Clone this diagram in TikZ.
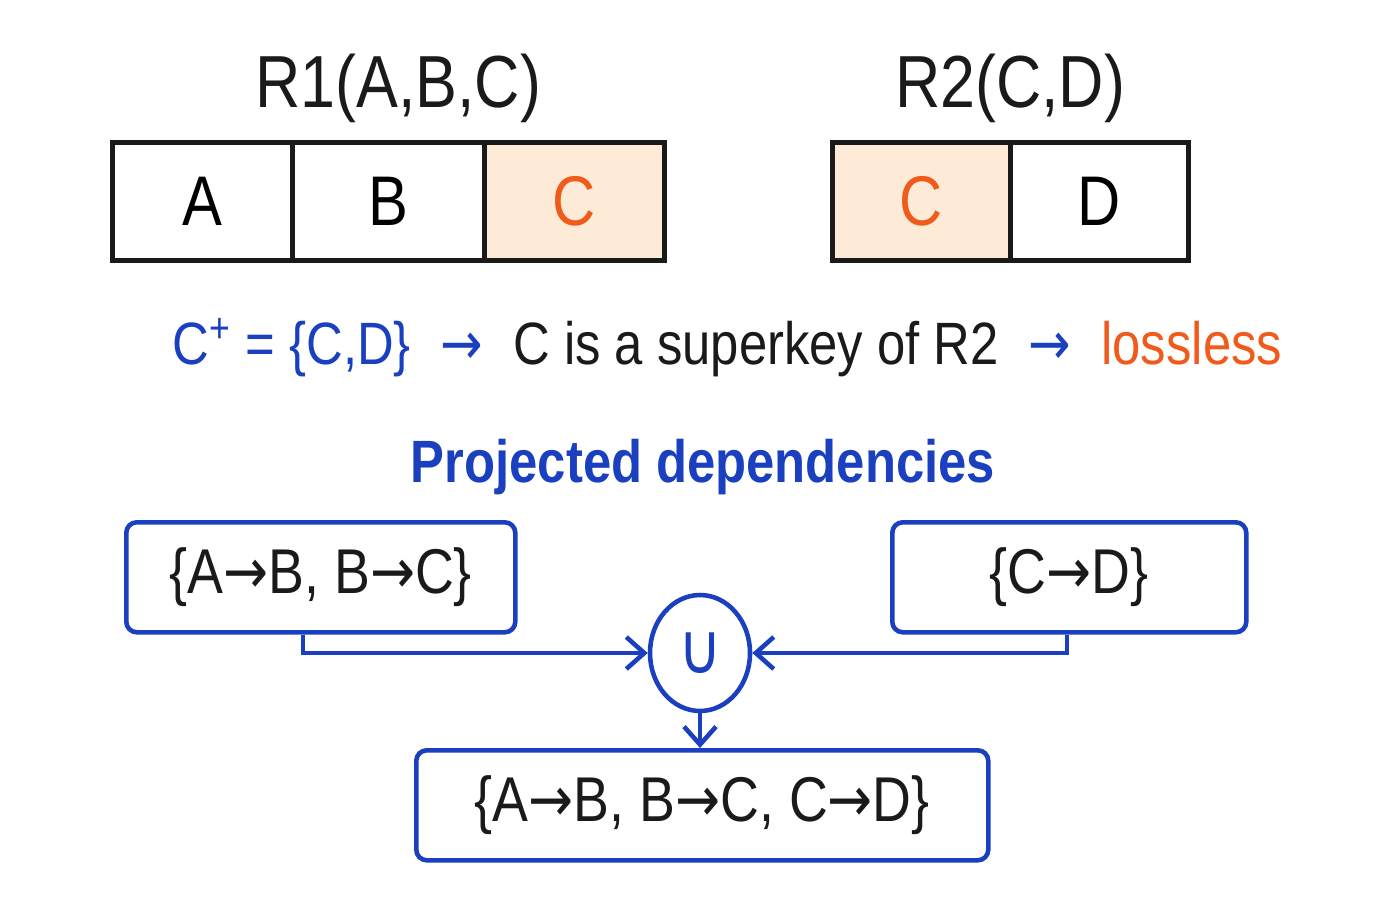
\documentclass[tikz,border=0pt]{standalone}
\usetikzlibrary{shapes.geometric,arrows.meta}
\usepackage{fontspec}
\setmainfont{Liberation Sans}[FakeStretch=0.85]
\newfontfamily\dv{DejaVu Sans}[FakeStretch=0.85]
\definecolor{myblue}{HTML}{1A3FBF}
\definecolor{myorange}{HTML}{F05A1A}
\definecolor{peach}{HTML}{FDEBD8}
\definecolor{ink}{HTML}{1A1A1A}
\newcommand{\ar}{{\dv\char"2192}}
\begin{document}
\begin{tikzpicture}[x=0.1mm,y=-0.1mm,
  cell/.style={draw=ink,line width=1.3pt,minimum height=11.8mm,inner sep=0pt,font=\fontsize{20}{24}\selectfont},
  dep/.style={draw=myblue,line width=1.3pt,rounded corners=3pt,inner sep=0pt,font=\fontsize{18}{22}\selectfont,text=ink},
  conn/.style={draw=myblue,line width=1.3pt,-{Straight Barb[length=1.8mm,width=3.2mm]}}]
\useasboundingbox (0,0) rectangle (1400,900);
\node[font=\fontsize{21}{24}\selectfont,text=ink] (t1) at (398,88) {R1(A,B,C)};
\node[font=\fontsize{21}{24}\selectfont,text=ink] (t2) at (1010,88) {R2(C,D)};
\node[cell,minimum width=18mm,anchor=north west] (a) at (110,140) {A};
\node[cell,minimum width=19.2mm,anchor=north west] (b) at (290,140) {B};
\node[cell,minimum width=18mm,anchor=north west,fill=peach,text=myorange] (c) at (482,140) {C};
\node[cell,minimum width=17.8mm,anchor=north west,fill=peach,text=myorange] (c2) at (830,140) {C};
\node[cell,minimum width=17.8mm,anchor=north west] (d) at (1008,140) {D};
\node[font=\fontsize{17}{20}\selectfont,anchor=west] (line) at (160,348)
 {\textcolor{myblue}{C\textsuperscript{+} = \{C,D\}}\hspace{3mm}\textcolor{myblue}{\ar}\hspace{3mm}\textcolor{ink}{C is a superkey of R2}\hspace{3mm}\textcolor{myblue}{\ar}\hspace{3mm}\textcolor{myorange}{lossless}};
\node[font=\fontsize{17}{22}\selectfont\bfseries,text=myblue] (pd) at (703,467) {Projected dependencies};
\node[dep,minimum width=38.9mm,minimum height=11mm,anchor=north west] (b1) at (124,520) {\{A\ar B, B\ar C\}};
\node[dep,minimum width=35.4mm,minimum height=11mm,anchor=north west] (b2) at (890,520) {\{C\ar D\}};
\node[draw=myblue,line width=1.3pt,ellipse,minimum width=10mm,minimum height=11.6mm,inner sep=0pt,text=myblue,font=\fontsize{20}{24}\selectfont] (u) at (700,653) {\dv ∪};
\node[dep,minimum width=57.2mm,minimum height=11mm,anchor=north west] (b3) at (414,748) {\{A\ar B, B\ar C, C\ar D\}};
\draw[conn] (b1.south -| 303,0) |- (u.west);
\draw[conn] (b2.south -| 1067,0) |- (u.east);
\draw[conn] (u.south) -- (b3.north -| u.south);
\end{tikzpicture}
\end{document}
